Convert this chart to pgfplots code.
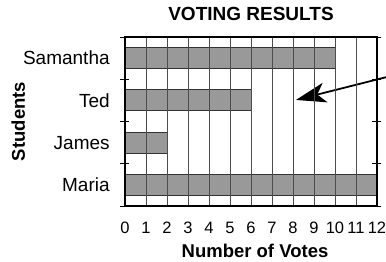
\documentclass[border=0pt]{standalone}
\usepackage{fontspec}
\setmainfont{Liberation Sans}
\usepackage{pgfplots}
\pgfplotsset{compat=1.18}
\usetikzlibrary{arrows.meta}
\begin{document}
\begin{tikzpicture}
\begin{axis}[
  at={(0,0)}, anchor=south west,
  scale only axis, width=252pt, height=169pt,
  xmin=0, xmax=12, ymin=-0.5, ymax=3.5,
  xbar, bar width=21pt,
  xtick={0,...,12},
  xmajorgrids,
  major grid style={draw=black!70, line width=0.9pt},
  major x tick style={draw=none},
  ytick={0,1,2,3},
  yticklabels={Maria,James,Ted,Samantha},
  major y tick style={draw=none},
  minor ytick={-0.5,0.5,1.5,2.5,3.5},
  minor y tick style={draw=black, line width=0.9pt},
  minor tick length=9pt,
  tick align=center,
  axis line style={line width=1.1pt},
  axis on top,
  clip=false,
  /pgf/number format/assume math mode=true,
  title={VOTING RESULTS},
  title style={font=\fontsize{19}{21}\selectfont\bfseries, at={(axis description cs:0.5,1)}, anchor=base, yshift=11pt},
  xlabel={Number of Votes},
  xlabel style={font=\fontsize{18.5}{20}\selectfont\bfseries, at={(axis description cs:0.5,0)}, anchor=base, yshift=-52pt, xshift=4pt},
  ylabel={Students},
  ylabel style={font=\fontsize{18.5}{20}\selectfont\bfseries, at={(axis description cs:0,0.5)}, anchor=base, yshift=100pt},
  xticklabel style={font=\fontsize{16.5}{18}\selectfont, anchor=base, inner sep=0pt},
  yticklabel style={font=\fontsize{19}{21}\selectfont, anchor=east, inner sep=0pt},
  xticklabel shift=0pt,
  yticklabel shift=0pt,
  every x tick label/.append style={yshift=-25pt},
  every y tick label/.append style={xshift=-13pt},
]
\addplot[fill=black!40, draw=black!80, line width=0.9pt]
  coordinates {(12,0) (2,1) (6,2) (10,3)};
\draw[line width=1.8pt, -{Stealth[length=30pt, width=20pt, inset=8pt]}]
  (axis cs:12.6,2.57) -- (axis cs:8.14,2.01);
\end{axis}
\pgfresetboundingbox
\path[use as bounding box] (-125pt,-56pt) rectangle (261pt,206pt);
\end{tikzpicture}
\end{document}
